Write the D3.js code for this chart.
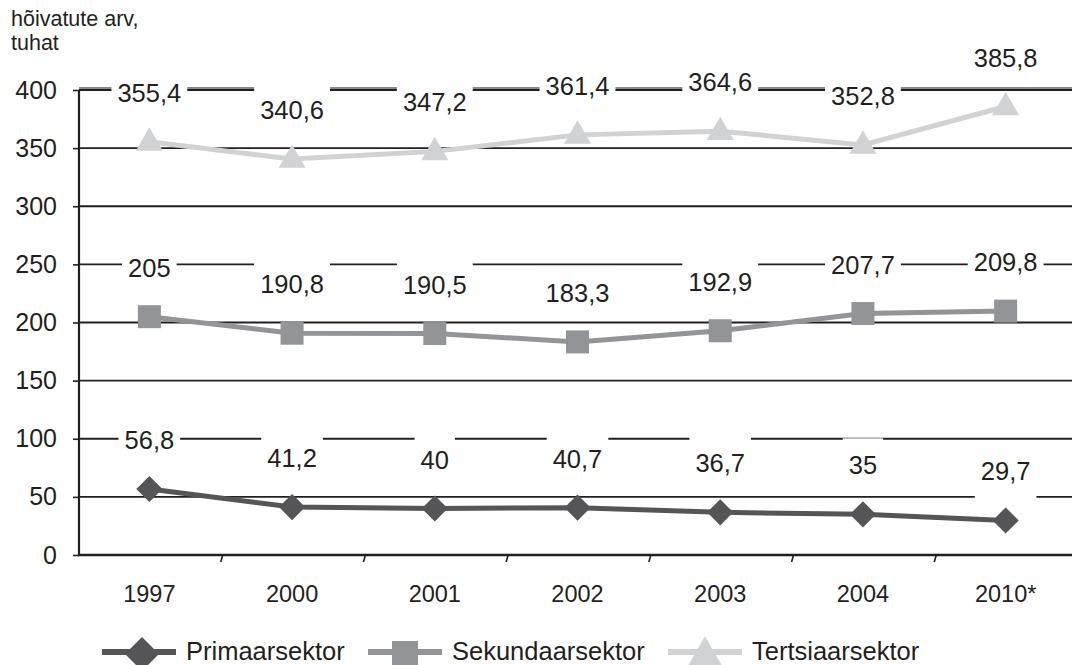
<!DOCTYPE html>
<html><head><meta charset="utf-8">
<script src="https://cdn.jsdelivr.net/npm/d3@7"></script>
<style>
html,body{margin:0;padding:0;background:#fff;}
svg{display:block;font-family:"Liberation Sans",Arial,Helvetica,sans-serif;}
</style></head>
<body><svg id="c" width="1072" height="665"></svg>
<script>
const categories = ["1997","2000","2001","2002","2003","2004","2010*"];
const primaar = [56.8, 41.2, 40, 40.7, 36.7, 35, 29.7];
const sekundaar = [205, 190.8, 190.5, 183.3, 192.9, 207.7, 209.8];
const tertsiaar = [355.4, 340.6, 347.2, 361.4, 364.6, 352.8, 385.8];
const yTicks = [0, 50, 100, 150, 200, 250, 300, 350, 400];
const seriesNames = ["Primaarsektor", "Sekundaarsektor", "Tertsiaarsektor"];
const yTitle = ["hõivatute arv,", "tuhat"];

const ink = "#231f20";
const svg = d3.select("#c");
const x = d3.scaleBand().domain(categories).range([78, 1077]);
const y = d3.scaleLinear().domain([0, 400]).range([555, 90]);
const cx = d => x(d) + x.bandwidth() / 2;

const series = [
  {name: seriesNames[0], values: primaar, color: "#555557", sym: "diamond"},
  {name: seriesNames[1], values: sekundaar, color: "#929497", sym: "square"},
  {name: seriesNames[2], values: tertsiaar, color: "#d1d2d4", sym: "triangle"}
];
function symPath(type, s) {
  if (type === "diamond" || type === "square") return d3.symbol(d3.symbolSquare, s * s)();
  return d3.symbol(d3.symbolTriangle, Math.sqrt(3) / 4 * s * s)();
}

// title
svg.append("text").attr("x", 11).attr("y", 26).attr("font-size", 21.5).attr("fill", ink).text(yTitle[0]);
svg.append("text").attr("x", 11).attr("y", 50).attr("font-size", 21.5).attr("fill", ink).text(yTitle[1]);

// gridlines
const gGrid = svg.append("g");
gGrid.append("line").attr("x1", 79).attr("x2", 1072).attr("y1", y(400) - 2).attr("y2", y(400) - 2)
  .attr("stroke", "#8a8a8c").attr("stroke-width", 2);
gGrid.selectAll("line.g").data(yTicks.filter(t => t > 0)).enter().append("line")
  .attr("class", "g").attr("x1", 79).attr("x2", 1072)
  .attr("y1", d => y(d)).attr("y2", d => y(d))
  .attr("stroke", ink).attr("stroke-width", 1.8);

// axes
const yAxis = d3.axisLeft(y).tickValues(yTicks).tickSize(6).tickPadding(16).tickFormat(d3.format("d"));
const gy = svg.append("g").attr("transform", "translate(79,0)").call(yAxis);
gy.select(".domain").attr("stroke", ink).attr("stroke-width", 2.2).attr("d", `M0,${y(400)}V${y(0)}`);
gy.selectAll(".tick line").attr("stroke", ink).attr("stroke-width", 1.6);
gy.selectAll(".tick text").attr("font-size", 25).attr("fill", ink).attr("font-family", "Liberation Sans, Arial, sans-serif");

svg.append("line").attr("x1", 78).attr("x2", 1072).attr("y1", y(0)).attr("y2", y(0))
  .attr("stroke", ink).attr("stroke-width", 2.6);
// category boundary ticks
svg.selectAll("line.xt").data(categories.slice(1)).enter().append("line")
  .attr("class", "xt")
  .attr("x1", d => x(d) + 2).attr("x2", d => x(d))
  .attr("y1", y(0)).attr("y2", y(0) + 7)
  .attr("stroke", ink).attr("stroke-width", 1.6);
svg.selectAll("text.xl").data(categories).enter().append("text")
  .attr("class", "xl").attr("x", d => cx(d)).attr("y", 602)
  .attr("text-anchor", "middle").attr("font-size", 23.5).attr("fill", ink).text(d => d);

// series
const line = d3.line().x((d, i) => cx(categories[i])).y(d => y(d));
series.forEach(s => {
  svg.append("path").attr("d", line(s.values)).attr("fill", "none")
    .attr("stroke", s.color).attr("stroke-width", 5);
  const sz = s.sym === "diamond" ? 18.5 : (s.sym === "square" ? 23 : 27);
  svg.selectAll(null).data(s.values).enter().append("path")
    .attr("d", symPath(s.sym, sz))
    .attr("transform", (d, i) => `translate(${cx(categories[i])},${y(d) + (s.sym === "triangle" ? 1 : 0)})` + (s.sym === "diamond" ? " rotate(45)" : ""))
    .attr("fill", s.color);
});

// data labels with white boxes
const fmt = v => String(v).replace(".", ",");
series.forEach(s => {
  s.values.forEach((v, i) => {
    const g = svg.append("g");
    const t = g.append("text").attr("x", cx(categories[i])).attr("y", y(v) - 40)
      .attr("text-anchor", "middle").attr("font-size", 25.5).attr("fill", ink).text(fmt(v));
    const w = t.node().getComputedTextLength();
    g.insert("rect", "text").attr("x", cx(categories[i]) - w / 2 - 6).attr("y", y(v) - 49 - 27)
      .attr("width", w + 12).attr("height", 54).attr("fill", "#fff");
  });
});

// legend
const legendX = [102, 368, 668];
series.forEach((s, i) => {
  const g = svg.append("g").attr("transform", `translate(${legendX[i]},652)`);
  g.append("line").attr("x1", 0).attr("x2", 74).attr("y1", 0).attr("y2", 0)
    .attr("stroke", s.color).attr("stroke-width", 6);
  const sz = s.sym === "diamond" ? 24 : (s.sym === "square" ? 26 : 34);
  g.append("path").attr("d", symPath(s.sym, sz))
    .attr("transform", `translate(${s.sym === "diamond" ? 40 : 37},${s.sym === "triangle" ? 4 : 2})` + (s.sym === "diamond" ? " rotate(45)" : ""))
    .attr("fill", s.color);
  g.append("text").attr("x", 84).attr("y", 8).attr("font-size", 25.5).attr("fill", ink).text(s.name);
});
</script></body></html>
